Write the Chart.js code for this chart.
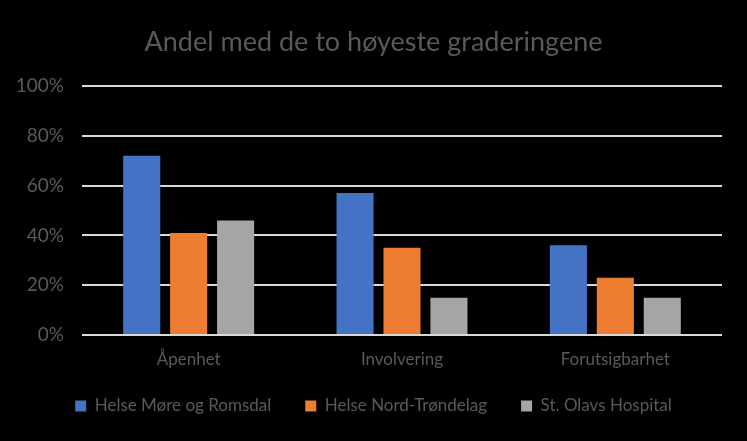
<!DOCTYPE html>
<html>
<head>
<meta charset="utf-8">
<script src="https://cdn.jsdelivr.net/npm/chart.js@4/dist/chart.umd.min.js"></script>
<style>
html,body{margin:0;padding:0;background:#000;}
#wrap{width:747px;height:441px;}
</style>
</head>
<body>
<div id="wrap"><canvas id="c" width="747" height="441"></canvas></div>
<script>
const categories = ["Åpenhet", "Involvering", "Forutsigbarhet"];
const seriesNames = ["Helse Møre og Romsdal", "Helse Nord-Trøndelag", "St. Olavs Hospital"];
const moreRomsdal = [0.72, 0.57, 0.36];
const nordTrondelag = [0.41, 0.35, 0.23];
const stOlavs = [0.46, 0.15, 0.15];
const yTicks = [0, 0.2, 0.4, 0.6, 0.8, 1.0];
const colors = ["#4472C4", "#ED7D31", "#A5A5A5"];
const textColor = "#595959";
const FONT = "Lato";

const noLabelClip = (s) => { s._computeLabelArea = () => undefined; };

new Chart(document.getElementById('c'), {
  type: 'bar',
  data: {
    labels: categories,
    datasets: [moreRomsdal, nordTrondelag, stOlavs].map((d, i) => ({
      label: seriesNames[i],
      data: d,
      backgroundColor: colors[i],
      borderWidth: 0,
      categoryPercentage: 0.66,
      barPercentage: 0.79
    }))
  },
  options: {
    responsive: false,
    animation: false,
    devicePixelRatio: 1,
    layout: {padding: {left: 25, right: 25, top: 0, bottom: 16.5}},
    plugins: {
      title: {
        display: true,
        text: "Andel med de to høyeste graderingene",
        color: textColor,
        font: {family: FONT, size: 27, weight: 'normal'},
        padding: {top: 26, bottom: 27.6}
      },
      legend: {
        position: 'bottom',
        labels: {
          color: textColor,
          font: {family: FONT, size: 17},
          boxWidth: 11,
          boxHeight: 11,
          padding: 34
        }
      },
      tooltip: {enabled: false}
    },
    scales: {
      x: {
        grid: {display: false, drawTicks: false},
        border: {display: false},
        ticks: {color: textColor, font: {family: FONT, size: 17}, padding: 14},
        afterFit: (s) => { s.height = 28.5; noLabelClip(s); }
      },
      y: {
        min: 0, max: 1,
        afterBuildTicks: (s) => { s.ticks = yTicks.map(v => ({value: v})); },
        grid: {color: "#D9D9D9", lineWidth: 2, drawTicks: false},
        border: {display: false},
        ticks: {
          color: textColor,
          font: {family: FONT, size: 19},
          padding: 18,
          callback: (v) => Math.round(v * 100) + "%"
        },
        afterFit: (s) => { s.width = 57; noLabelClip(s); }
      }
    }
  }
});
</script>
</body>
</html>
